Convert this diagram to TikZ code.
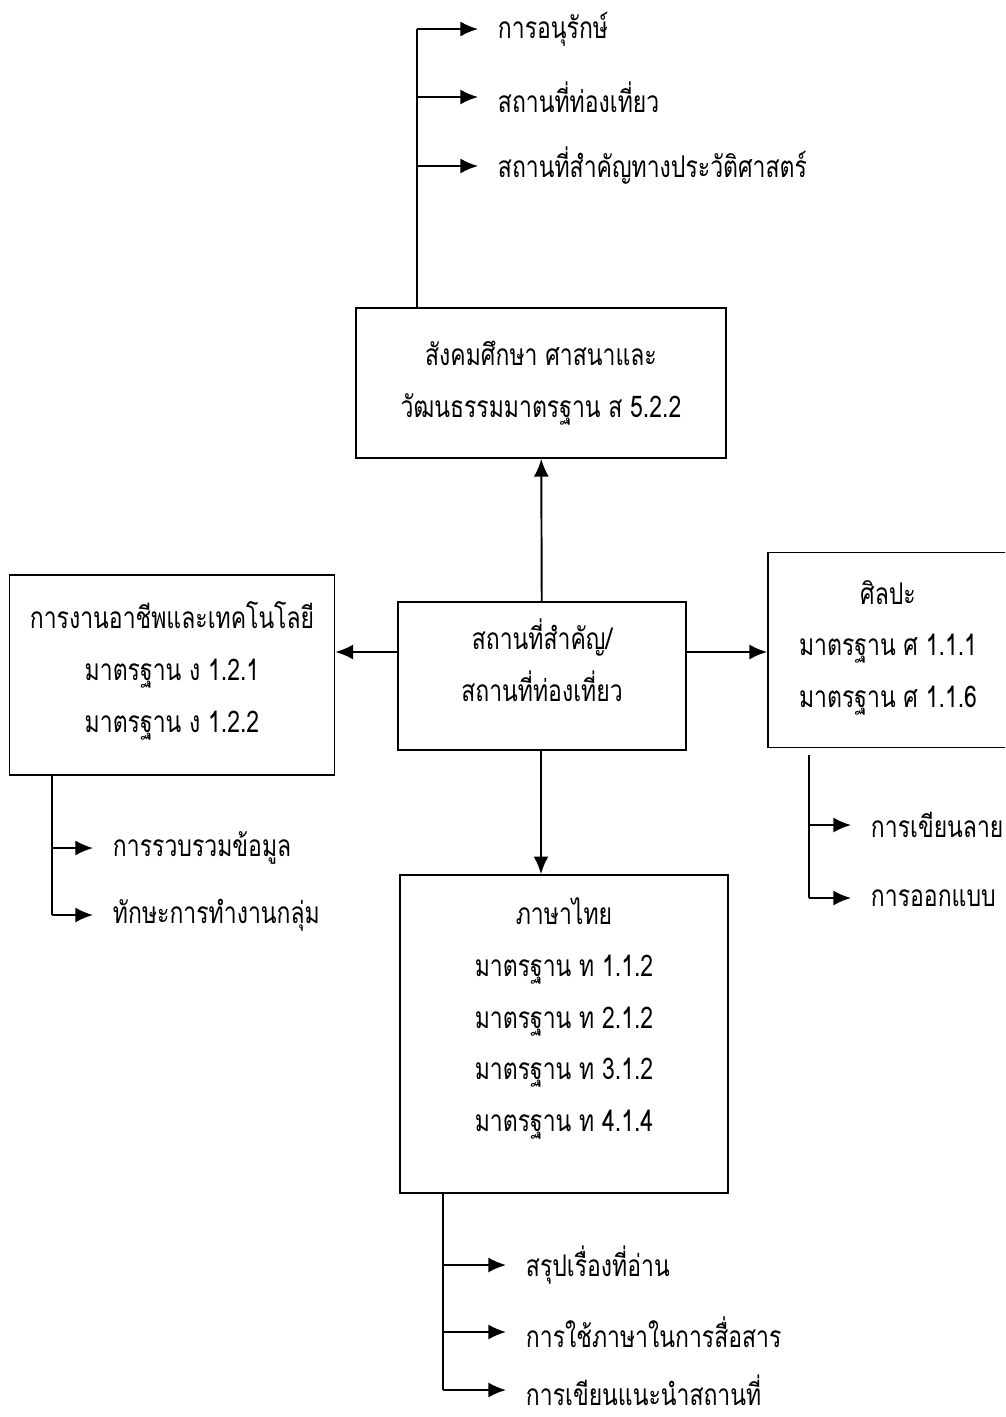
\documentclass[tikz,border=0pt]{standalone}
\usepackage{fontspec}
\setmainfont[Script=Thai,FakeStretch=0.77]{Loma}
\usetikzlibrary{arrows.meta}

\begin{document}
\begin{tikzpicture}[x=0.02cm,y=-0.02cm,
  line width=1.1pt,
  every node/.style={font=\fontsize{17}{29.5}\selectfont},
  box/.style={draw,align=center,inner sep=0pt},
  leaf/.style={anchor=west,inner sep=0pt},
  arr/.style={-{Latex[length=10pt,width=8.5pt]}},
  twig/.style={-{Latex[length=10pt,width=8.5pt]},shorten >=0.38cm}]
\clip (0,0) rectangle (1005,1417);

% boxes
\node[box,minimum width=5.76cm,minimum height=2.96cm,text depth=18pt] (hub) at (542,676) {สถานที่สำคัญ/\\สถานที่ท่องเที่ยว};
\node[box,minimum width=7.4cm,minimum height=3cm,text depth=4pt] (social) at (541,383) {สังคมศึกษา ศาสนาและ\\วัฒนธรรมมาตรฐาน ส 5.2.2};
\node[box,minimum width=6.5cm,minimum height=4cm,text depth=9pt] (work) at (172,675) {การงานอาชีพและเทคโนโลยี\\มาตรฐาน ง 1.2.1\\มาตรฐาน ง 1.2.2};
\node[box,minimum width=4.8cm,minimum height=3.9cm,text depth=7pt] (art) at (888,650) {ศิลปะ\\มาตรฐาน ศ 1.1.1\\มาตรฐาน ศ 1.1.6};
\node[box,minimum width=6.56cm,minimum height=6.36cm,text depth=22pt] (thai) at (564,1034) {ภาษาไทย\\มาตรฐาน ท 1.1.2\\มาตรฐาน ท 2.1.2\\มาตรฐาน ท 3.1.2\\มาตรฐาน ท 4.1.4};

% links from the hub
\coordinate (midrow) at (541,652);
\draw[arr] (hub) -- (social);
\draw[arr] (hub.west |- midrow) -- (work.east |- midrow);
\draw[arr] (hub.east |- midrow) -- (art.west |- midrow);
\draw[arr] (hub.south -| midrow) -- (thai.north -| midrow);

% leaves
\node[leaf] (keep) at (497,29) {การอนุรักษ์};
\node[leaf] (tour) at (497,97) {สถานที่ท่องเที่ยว};
\node[leaf] (hist) at (497,166) {สถานที่สำคัญทางประวัติศาสตร์};
\node[leaf] (data) at (112,848) {การรวบรวมข้อมูล};
\node[leaf] (team) at (112,915) {ทักษะการทำงานกลุ่ม};
\node[leaf] (line) at (870,825) {การเขียนลาย};
\node[leaf] (plan) at (870,898) {การออกแบบ};
\node[leaf] (read) at (525,1265) {สรุปเรื่องที่อ่าน};
\node[leaf] (talk) at (525,1332) {การใช้ภาษาในการสื่อสาร};
\node[leaf] (note) at (525,1390) {การเขียนแนะนำสถานที่};

% trunks
\coordinate (t1) at (417,29);
\coordinate (t2) at (52,915);
\coordinate (t3) at (809,898);
\coordinate (t4) at (443,1390);
\draw (social.north -| t1) -- (t1);
\draw (work.south -| t2) -- (t2);
\draw ([yshift=-4pt]art.south -| t3) -- (t3);
\draw (thai.south -| t4) -- (t4);

\foreach \t/\l in {t1/keep,t1/tour,t1/hist,t2/data,t2/team,t3/line,t3/plan,t4/read,t4/talk,t4/note}
  \draw[twig] (\t |- \l.west) -- (\l.west);

\end{tikzpicture}
\end{document}
